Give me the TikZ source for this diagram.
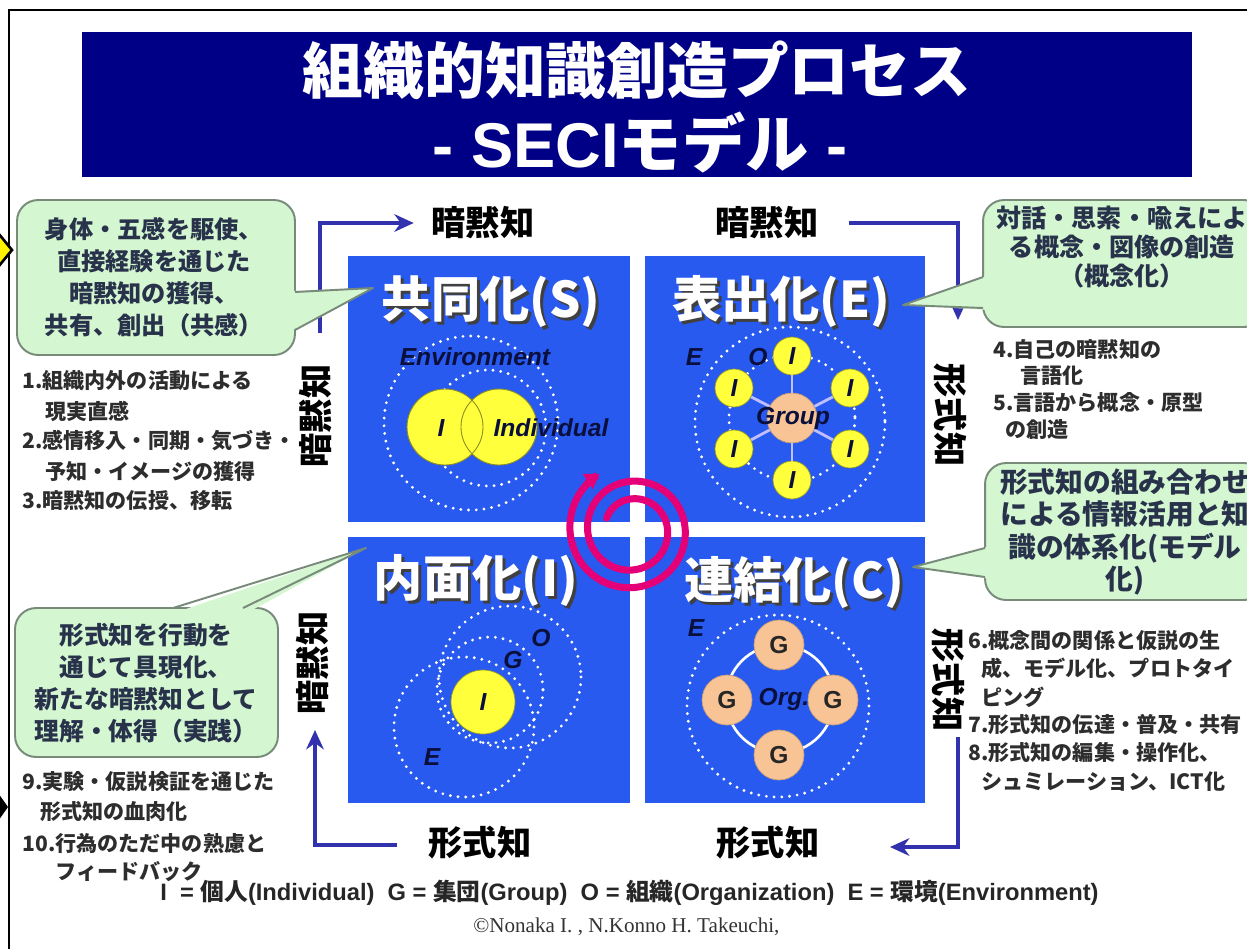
\documentclass[tikz,border=0pt]{standalone}
\usepackage{fontspec}
\setmainfont{Liberation Sans}
\newfontfamily\jp{Noto Sans CJK JP}
\newfontfamily\ser{Liberation Serif}
\usetikzlibrary{arrows.meta}
\newcommand\myfs[1]{\fontsize{#1}{#1}\selectfont}
\definecolor{cNavy}{RGB}{0,0,135}
\definecolor{qblue}{RGB}{40,90,240}
\definecolor{arrblue}{RGB}{50,50,175}
\definecolor{cfill}{RGB}{212,246,208}
\definecolor{cedge}{RGB}{120,138,122}
\definecolor{ctext}{RGB}{40,50,75}
\definecolor{ntext}{RGB}{45,45,45}
\definecolor{ilab}{RGB}{10,15,60}
\definecolor{yel}{RGB}{255,255,60}
\definecolor{peach}{RGB}{248,196,150}
\definecolor{mag}{RGB}{230,0,120}
\begin{document}
\begin{tikzpicture}[x=0.02cm, y=-0.02cm,
  flow/.style={draw=arrblue, line width=2.8pt, -{Stealth[length=11pt,width=10pt]}},
  dotring/.style={draw=white, line width=1.8pt, dash pattern=on 0pt off 4.4pt, line cap=round},
  callbox/.style={draw=cedge, fill=cfill, line width=1.1pt, rounded corners=12pt, inner sep=0pt},
  ptr/.style={draw=cedge, line width=1.1pt, line join=round},
  ctxt/.style={font=\jp\bfseries\fontsize{13.8pt}{18.3pt}\selectfont, text=ctext, align=center, inner sep=0pt},
  ntxt/.style={font=\jp\bfseries\myfs{12pt}, text=ntext, anchor=west, inner sep=0pt},
  vlab/.style={font=\jp\bfseries\myfs{19.5pt}, inner sep=0pt},
  qtitle/.style={font=\jp\bfseries\myfs{28pt}, text=white, inner sep=0pt},
  qshadow/.style={font=\jp\bfseries\myfs{28pt}, text=black!75, inner sep=0pt},
  ital/.style={font=\bfseries\itshape\myfs{14pt}, text=ilab, inner sep=0pt},
  icirc/.style={circle, fill=yel, draw=yel!60!black, line width=0.4pt, minimum size=0.76cm, inner sep=0pt, font=\bfseries\itshape\myfs{14pt}, text=ilab},
  gcirc/.style={circle, fill=peach, draw=peach!80!black, line width=0.4pt, minimum size=1cm, inner sep=0pt, font=\bfseries\myfs{14pt}, text=black!85},
  spoke/.style={draw=blue!25!white, line width=1.6pt},
]
\useasboundingbox (0,0) rectangle (1247,948);
\clip (0,0) rectangle (1247,948);
\fill[white] (0,0) rectangle (1247,948);
% frame and edge marks
\draw[line width=1.1pt] (9,960) -- (9,10) -- (1260,10);
\filldraw[fill=yellow, draw=black, line width=1.5pt] (-6,228) -- (12,250) -- (-6,272) -- cycle;
\fill[black] (-4,790) -- (8,807) -- (-4,824) -- cycle;
% banner
\fill[cNavy] (82,32) rectangle (1192,177);
\node[font=\jp\bfseries\myfs{34.6pt}, text=white, inner sep=0pt] (t1) at (637,70) {組織的知識創造プロセス};
\node[font=\bfseries\myfs{36pt}, text=white, inner sep=0pt] (t2) at (640,143) {- SECI{\jp モデル} -};
% quadrants
\fill[qblue] (348,256) rectangle (630,522);
\fill[qblue] (645,256) rectangle (925,522);
\fill[qblue] (348,537) rectangle (630,803);
\fill[qblue] (645,537) rectangle (925,803);
% spiral
\draw[mag, line width=4pt, line cap=round, -{Triangle[length=8pt,width=10pt]}]
  plot[domain=-155:600, samples=300, variable=\t]
  ({632+(28+0.049*(\t+155))*cos(\t)}, {530+(28+0.049*(\t+155))*sin(\t)});
% quadrant titles
\node[qshadow] at (494,305) {共同化(S)};
\node[qtitle] (tS) at (491,302) {共同化(S)};
\node[qshadow] at (784,305) {表出化(E)};
\node[qtitle] (tE) at (781,302) {表出化(E)};
\node[qshadow] at (479,583) {内面化(I)};
\node[qtitle] (tI) at (476,580) {内面化(I)};
\node[qshadow] at (797,585) {連結化(C)};
\node[qtitle] (tC) at (794,582) {連結化(C)};
% S quadrant
\draw[dotring] (471,423) circle[radius=87];
\draw[dotring] (488,428) circle[radius=58];
\fill[yel] (445,427) circle[radius=38];
\fill[yel] (499,427) circle[radius=38];
\draw[yel!55!black, line width=0.5pt] (445,427) circle[radius=38];
\draw[yel!55!black, line width=0.5pt] (499,427) circle[radius=38];
\node[ital] (sEnv) at (475,357) {Environment};
\node[ital] (sI) at (441,428) {I};
\node[ital] (sInd) at (551,428) {Individual};
% E quadrant
\draw[dotring] (790,422) circle[radius=95];
\draw[dotring] (792,418) circle[radius=63];
\node[gcirc] (eg) at (792,418) {};
\node[icirc] (e1) at (792,356) {I};
\node[icirc] (e2) at (850,388) {I};
\node[icirc] (e3) at (850,449) {I};
\node[icirc] (e4) at (792,480) {I};
\node[icirc] (e5) at (734,449) {I};
\node[icirc] (e6) at (734,388) {I};
\foreach \k in {1,...,6} \draw[spoke] (eg) -- (e\k);
\node[ital] (eGroup) at (793,418) {Group};
\node[ital] (eE) at (694,357) {E};
\node[ital] (eO) at (758,357) {O};
% I quadrant
\draw[dotring] (464,727) circle[radius=70];
\draw[dotring] (510,677) circle[radius=71];
\draw[dotring] (490,690) circle[radius=53];
\node[icirc, minimum size=1.28cm] (iI) at (483,702) {I};
\node[ital] (iE) at (432,757) {E};
\node[ital] (iO) at (541,638) {O};
\node[ital] (iG) at (513,660) {G};
% C quadrant
\draw[dotring] (778,706) circle[radius=91];
\draw[white, line width=1.5pt] (780,699) circle[radius=54];
\node[gcirc] (c1g) at (779,645) {G};
\node[gcirc] (c2g) at (727,700) {G};
\node[gcirc] (c3g) at (833,700) {G};
\node[gcirc] (c4g) at (779,755) {G};
\node[ital] (cOrg) at (784,699) {Org.};
\node[ital] (cE) at (696,628) {E};
% axis labels
\node[vlab] (lTL) at (483,223) {暗黙知};
\node[vlab] (lTR) at (767,223) {暗黙知};
\node[vlab] (lBL) at (480,843) {形式知};
\node[vlab] (lBR) at (768,843) {形式知};
\node[vlab, rotate=90] (lL1) at (316,416) {暗黙知};
\node[vlab, rotate=90] (lL2) at (313,663) {暗黙知};
\node[vlab, rotate=-90] (lR1) at (950,415) {形式知};
\node[vlab, rotate=-90] (lR2) at (948,680) {形式知};
% flow arrows
\coordinate (a1s) at (320,333);
\coordinate (a2e) at (958,320);
\coordinate (a3s) at (958,737);
\coordinate (a3e) at (890,847);
\coordinate (a4s) at (397,845);
\coordinate (a4e) at (315,730);
\draw[flow] (a1s) |- ([xshift=-10pt]lTL.west);
\draw[flow] ([xshift=17pt]lTR.east) -| (a2e);
\draw[flow] (a3s) |- (a3e);
\draw[flow] (a4s) -| (a4e);
% callout 1
\node[callbox, minimum width=5.56cm, minimum height=3.1cm] (c1) at (156,277.5) {};
\fill[cfill] (289,291) -- (373,288) -- (289,332) -- cycle;
\draw[ptr] (295,292) -- (373,288) -- (295,330);
\node[ctxt] (c1t) at (154,277) {身体・五感を駆使、\\直接経験を通じた\\暗黙知の獲得、\\共有、創出（共感）};
% callout 2
\node[callbox, minimum width=5.64cm, minimum height=2.54cm] (c2) at (1124,263.5) {};
\fill[cfill] (989,275) -- (903,305) -- (989,310) -- cycle;
\draw[ptr] (983,277) -- (903,305) -- (983,308);
\node[ctxt, font=\jp\bfseries\fontsize{14.3pt}{16.5pt}\selectfont] (c2t) at (1122,247) {対話・思索・喩えによ\\る概念・図像の創造\\（概念化）};
% callout 3
\node[callbox, minimum width=5.26cm, minimum height=2.98cm] (c3) at (146.5,682.5) {};
\fill[cfill] (171,614) -- (366,548) -- (245,614) -- cycle;
\draw[ptr] (173,608) -- (366,548) -- (243,608);
\node[ctxt, font=\jp\bfseries\fontsize{14.1pt}{18.3pt}\selectfont] (c3t) at (146,683) {形式知を行動を\\通じて具現化、\\新たな暗黙知として\\理解・体得（実践）};
% callout 4
\node[callbox, minimum width=5.6cm, minimum height=2.74cm] (c4) at (1125,531.5) {};
\fill[cfill] (991,546) -- (913,567) -- (991,579) -- cycle;
\draw[ptr] (985,548) -- (913,567) -- (985,577);
\node[ctxt, font=\jp\bfseries\fontsize{15.8pt}{18.5pt}\selectfont] (c4t) at (1125,532) {形式知の組み合わせ\\による情報活用と知\\識の体系化(モデル\\化)};
% numbered notes left
\node[ntxt] (n1) at (22,381) {1.組織内外の活動による};
\node[ntxt] (n1b) at (45,411) {現実直感};
\node[ntxt] (n2) at (22,441) {2.感情移入・同期・気づき・};
\node[ntxt] (n2b) at (45,471) {予知・イメージの獲得};
\node[ntxt] (n3) at (22,501) {3.暗黙知の伝授、移転};
\node[ntxt] (n9) at (22,782) {9.実験・仮説検証を通じた};
\node[ntxt] (n9b) at (40,812) {形式知の血肉化};
\node[ntxt] (n10) at (22,843) {10.行為のただ中の熟慮と};
\node[ntxt] (n10b) at (55,872) {フィードバック};
% numbered notes right
\node[ntxt] (n4) at (993,349) {4.自己の暗黙知の};
\node[ntxt] (n4b) at (1020,376) {言語化};
\node[ntxt] (n5) at (993,403) {5.言語から概念・原型};
\node[ntxt] (n5b) at (1005,429) {の創造};
\node[ntxt] (n6) at (968,640) {6.概念間の関係と仮説の生};
\node[ntxt] (n6b) at (981,668) {成、モデル化、プロトタイ};
\node[ntxt] (n6c) at (981,697) {ピング};
\node[ntxt] (n7) at (968,725) {7.形式知の伝達・普及・共有};
\node[ntxt] (n8) at (968,753) {8.形式知の編集・操作化、};
\node[ntxt] (n8b) at (981,782) {シュミレーション、ICT化};
% legend and credit
\node[font=\bfseries\myfs{13.5pt}, text=black!85, inner sep=0pt, anchor=west] (leg) at (160,893)
  {I \ = {\jp 個人}(Individual) \ G = {\jp 集団}(Group) \ O = {\jp 組織}(Organization) \ E = {\jp 環境}(Environment)};
\node[font=\ser\myfs{12pt}, text=black!80, inner sep=0pt, anchor=west] (copy) at (473,927) {©Nonaka I. , N.Konno H. Takeuchi,};
\end{tikzpicture}
\end{document}
